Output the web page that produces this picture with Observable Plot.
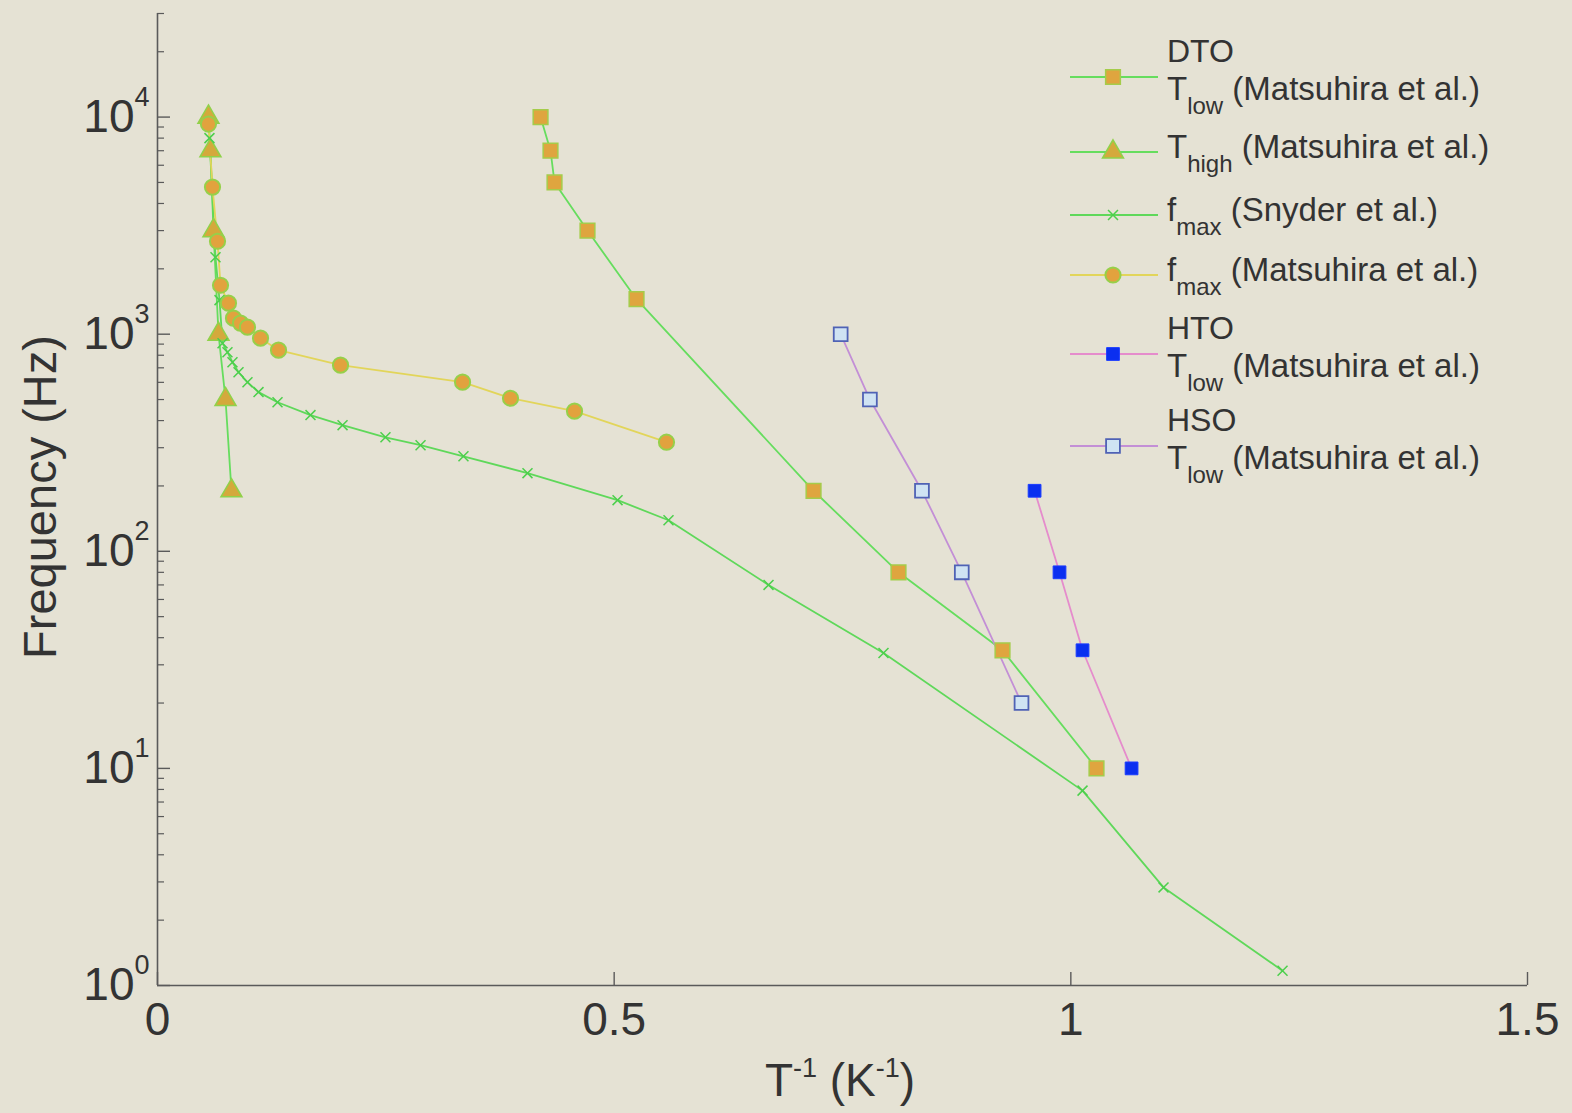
<!DOCTYPE html>
<html>
<head>
<meta charset="utf-8">
<script src="https://cdn.jsdelivr.net/npm/d3@7"></script>
<script src="https://cdn.jsdelivr.net/npm/@observablehq/plot@0.6"></script>
<style>
  html, body { margin: 0; padding: 0; background: #e5e2d4; }
  #chart { width: 1572px; height: 1113px; }
</style>
</head>
<body>
<div id="chart"></div>
<script>
// Inverse temperature (1/K) and frequency (Hz) for each data set.

// Dy2Ti2O7, T_low (Matsuhira et al.)
const dtoLowInvT = [0.4194, 0.4303, 0.4347, 0.4708, 0.5245, 0.7183, 0.8113, 0.9252, 1.0281];
const dtoLowFreq = [10000, 7000, 5000, 3000, 1450, 190, 80, 35, 10];

// Dy2Ti2O7, T_high (Matsuhira et al.)
const dtoHighInvT = [0.0558, 0.0580, 0.0613, 0.0668, 0.0745, 0.0810];
const dtoHighFreq = [10000, 7000, 3000, 1000, 500, 190];

// Dy2Ti2O7, f_max (Snyder et al.)
const snyderInvT = [0.0569, 0.0635, 0.0679, 0.0712, 0.0766, 0.0821, 0.0887, 0.0985, 0.1106, 0.1314,
                    0.1675, 0.2026, 0.2496, 0.2880, 0.3350, 0.4051, 0.5037, 0.5595, 0.6690, 0.7949,
                    1.0128, 1.1015, 1.2318];
const snyderFreq = [8000, 2260, 1435, 909, 826, 743, 668, 601, 541, 486,
                    424, 381, 335, 308, 274, 229, 172, 139, 70, 34,
                    7.9, 2.83, 1.17];

// Dy2Ti2O7, f_max (Matsuhira et al.)
const fmaxInvT = [0.0558, 0.0602, 0.0657, 0.0690, 0.0777, 0.0832, 0.0909, 0.0985, 0.1128, 0.1325,
                  0.2004, 0.3340, 0.3865, 0.4566, 0.5573];
const fmaxFreq = [9290, 4760, 2680, 1680, 1390, 1185, 1125, 1077, 959, 844,
                  720, 601, 507, 442, 318];

// Ho2Ti2O7, T_low (Matsuhira et al.)
const htoInvT = [0.9603, 0.9876, 1.0128, 1.0665];
const htoFreq = [190, 80, 35, 10];

// Ho2Sn2O7, T_low (Matsuhira et al.)
const hsoInvT = [0.7480, 0.7800, 0.8370, 0.8806, 0.9460];
const hsoFreq = [1000, 500, 190, 80, 20];

// Axis ticks
const xTicks = [0, 0.5, 1, 1.5];
const yMajorTicks = [1, 10, 100, 1000, 10000];
const yMinorTicks = [2, 3, 4, 5, 6, 7, 8, 9, 20, 30, 40, 50, 60, 70, 80, 90,
                     200, 300, 400, 500, 600, 700, 800, 900, 2000, 3000, 4000, 5000, 6000, 7000, 8000, 9000,
                     20000, 30000];

// Legend text parts
const legendGroups = ["DTO", null, null, null, "HTO", "HSO"];
const legendSymbols = ["T", "T", "f", "f", "T", "T"];
const legendSubs = ["low", "high", "max", "max", "low", "low"];
const legendRefs = ["(Matsuhira et al.)", "(Matsuhira et al.)", "(Snyder et al.)",
                    "(Matsuhira et al.)", "(Matsuhira et al.)", "(Matsuhira et al.)"];

const rows = (xs, fs) => xs.map((x, i) => ({invT: x, freq: fs[i]}));

const series = [
  {data: rows(dtoLowInvT, dtoLowFreq), line: "#66dd5e", symbol: "square", r: 8.3, fill: "#dfa53f", stroke: "#a5cc4a", sw: 1.5},
  {data: rows(dtoHighInvT, dtoHighFreq), line: "#66dd5e", symbol: "triangle", r: 7.8, fill: "#d4a93c", stroke: "#8fd24a", sw: 1.5},
  {data: rows(snyderInvT, snyderFreq), line: "#5fd85a", symbol: "times", r: 4.6, fill: "none", stroke: "#4ccf4c", sw: 1.5},
  {data: rows(fmaxInvT, fmaxFreq), line: "#e2d55a", symbol: "circle", r: 7.6, fill: "#e2a23e", stroke: "#96d04a", sw: 2},
  {data: rows(htoInvT, htoFreq), line: "#e58ccc", symbol: "square", r: 7.2, fill: "#0b2ff0", stroke: "#1a3cff", sw: 1},
  {data: rows(hsoInvT, hsoFreq), line: "#c38fd6", symbol: "square", r: 7.8, fill: "#cfe3f3", stroke: "#4f62b5", sw: 1.8}
];

const FONT = "'Liberation Sans', Arial, Helvetica, sans-serif";
const INK = "#333333";
const AXIS = "#5a5a5a";

const plot = Plot.plot({
  width: 1572,
  height: 1113,
  marginLeft: 157,
  marginRight: 45,
  marginTop: 13,
  marginBottom: 128,
  style: {background: "#e5e2d4", fontFamily: FONT, color: INK, overflow: "visible"},
  x: {domain: [0, 1.5]},
  y: {type: "log", domain: [1, 30000]},
  marks: [
    // axis lines
    Plot.ruleX([0], {stroke: AXIS, strokeWidth: 1.6}),
    Plot.ruleY([1], {stroke: AXIS, strokeWidth: 1.6}),
    // inward ticks
    Plot.axisY({ticks: yMajorTicks, tickSize: -13, fill: "none", stroke: AXIS, strokeWidth: 1.4, label: null}),
    Plot.axisY({ticks: yMinorTicks, tickSize: -7, fill: "none", stroke: AXIS, strokeWidth: 1.2, label: null}),
    Plot.axisX({ticks: xTicks, tickSize: -13, fill: "none", stroke: AXIS, strokeWidth: 1.4, label: null}),
    // tick labels
    Plot.axisY({ticks: yMajorTicks, tickSize: 0, tickPadding: 8, fontSize: 46, fill: INK, label: null,
                tickFormat: d => `10^${Math.round(Math.log10(d))}`}),
    Plot.axisX({ticks: xTicks, tickSize: 0, tickPadding: 17, fontSize: 46, fill: INK, label: null,
                tickFormat: d => String(d)}),
    // series lines
    ...series.map(s => Plot.line(s.data, {x: "invT", y: "freq", stroke: s.line, strokeWidth: 1.8})),
    // series markers
    ...series.map(s => Plot.dot(s.data, {x: "invT", y: "freq", symbol: s.symbol, r: s.r,
                                          fill: s.fill, stroke: s.stroke, strokeWidth: s.sw}))
  ]
});

document.getElementById("chart").appendChild(plot);

const svg = d3.select(plot);

// Render the decade labels as 10 with a raised exponent
svg.selectAll('g[aria-label="y-axis tick label"] text').each(function () {
  const t = d3.select(this);
  const [base, exp] = t.text().split("^");
  t.text(base);
  t.append("tspan").attr("dy", -26).attr("font-size", 27).text(exp);
});

// Axis titles
svg.append("text")
  .attr("transform", "translate(56,497) rotate(-90)")
  .attr("text-anchor", "middle")
  .attr("font-family", FONT).attr("font-size", 47).attr("fill", INK)
  .text("Frequency (Hz)");

const xTitle = svg.append("text")
  .attr("x", 840).attr("y", 1096)
  .attr("text-anchor", "middle")
  .attr("font-family", FONT).attr("font-size", 46).attr("fill", INK);
xTitle.append("tspan").text("T");
xTitle.append("tspan").attr("dy", -19).attr("font-size", 27).text("-1");
xTitle.append("tspan").attr("dy", 19).text(" (K");
xTitle.append("tspan").attr("dy", -19).attr("font-size", 27).text("-1");
xTitle.append("tspan").attr("dy", 19).text(")");

// Legend: optional compound name line above the quantity line
const symbolTypes = {square: d3.symbolSquare, triangle: d3.symbolTriangle, times: d3.symbolTimes, circle: d3.symbolCircle};
const legendRowY = [77, 152, 215, 275, 354, 446];
const legend = svg.append("g")
  .attr("font-family", FONT).attr("fill", INK).attr("text-anchor", "start");
series.forEach((s, i) => {
  const y = legendRowY[i];
  legend.append("line")
    .attr("x1", 1070).attr("x2", 1158).attr("y1", y).attr("y2", y)
    .attr("stroke", s.line).attr("stroke-width", 1.8);
  legend.append("path")
    .attr("transform", `translate(1113,${y})`)
    .attr("d", d3.symbol(symbolTypes[s.symbol], Math.PI * s.r * s.r)())
    .attr("fill", s.fill).attr("stroke", s.stroke).attr("stroke-width", s.sw);
  const hasGroup = legendGroups[i] !== null;
  if (hasGroup) {
    legend.append("text").attr("x", 1167).attr("y", y - 15).attr("font-size", 32).text(legendGroups[i]);
  }
  const t = legend.append("text").attr("x", 1167).attr("y", hasGroup ? y + 23 : y + 6).attr("font-size", 33);
  t.append("tspan").text(legendSymbols[i]);
  t.append("tspan").attr("dy", 14).attr("font-size", 24).text(legendSubs[i]);
  t.append("tspan").attr("dy", -14).text(" " + legendRefs[i]);
});
</script>
</body>
</html>
